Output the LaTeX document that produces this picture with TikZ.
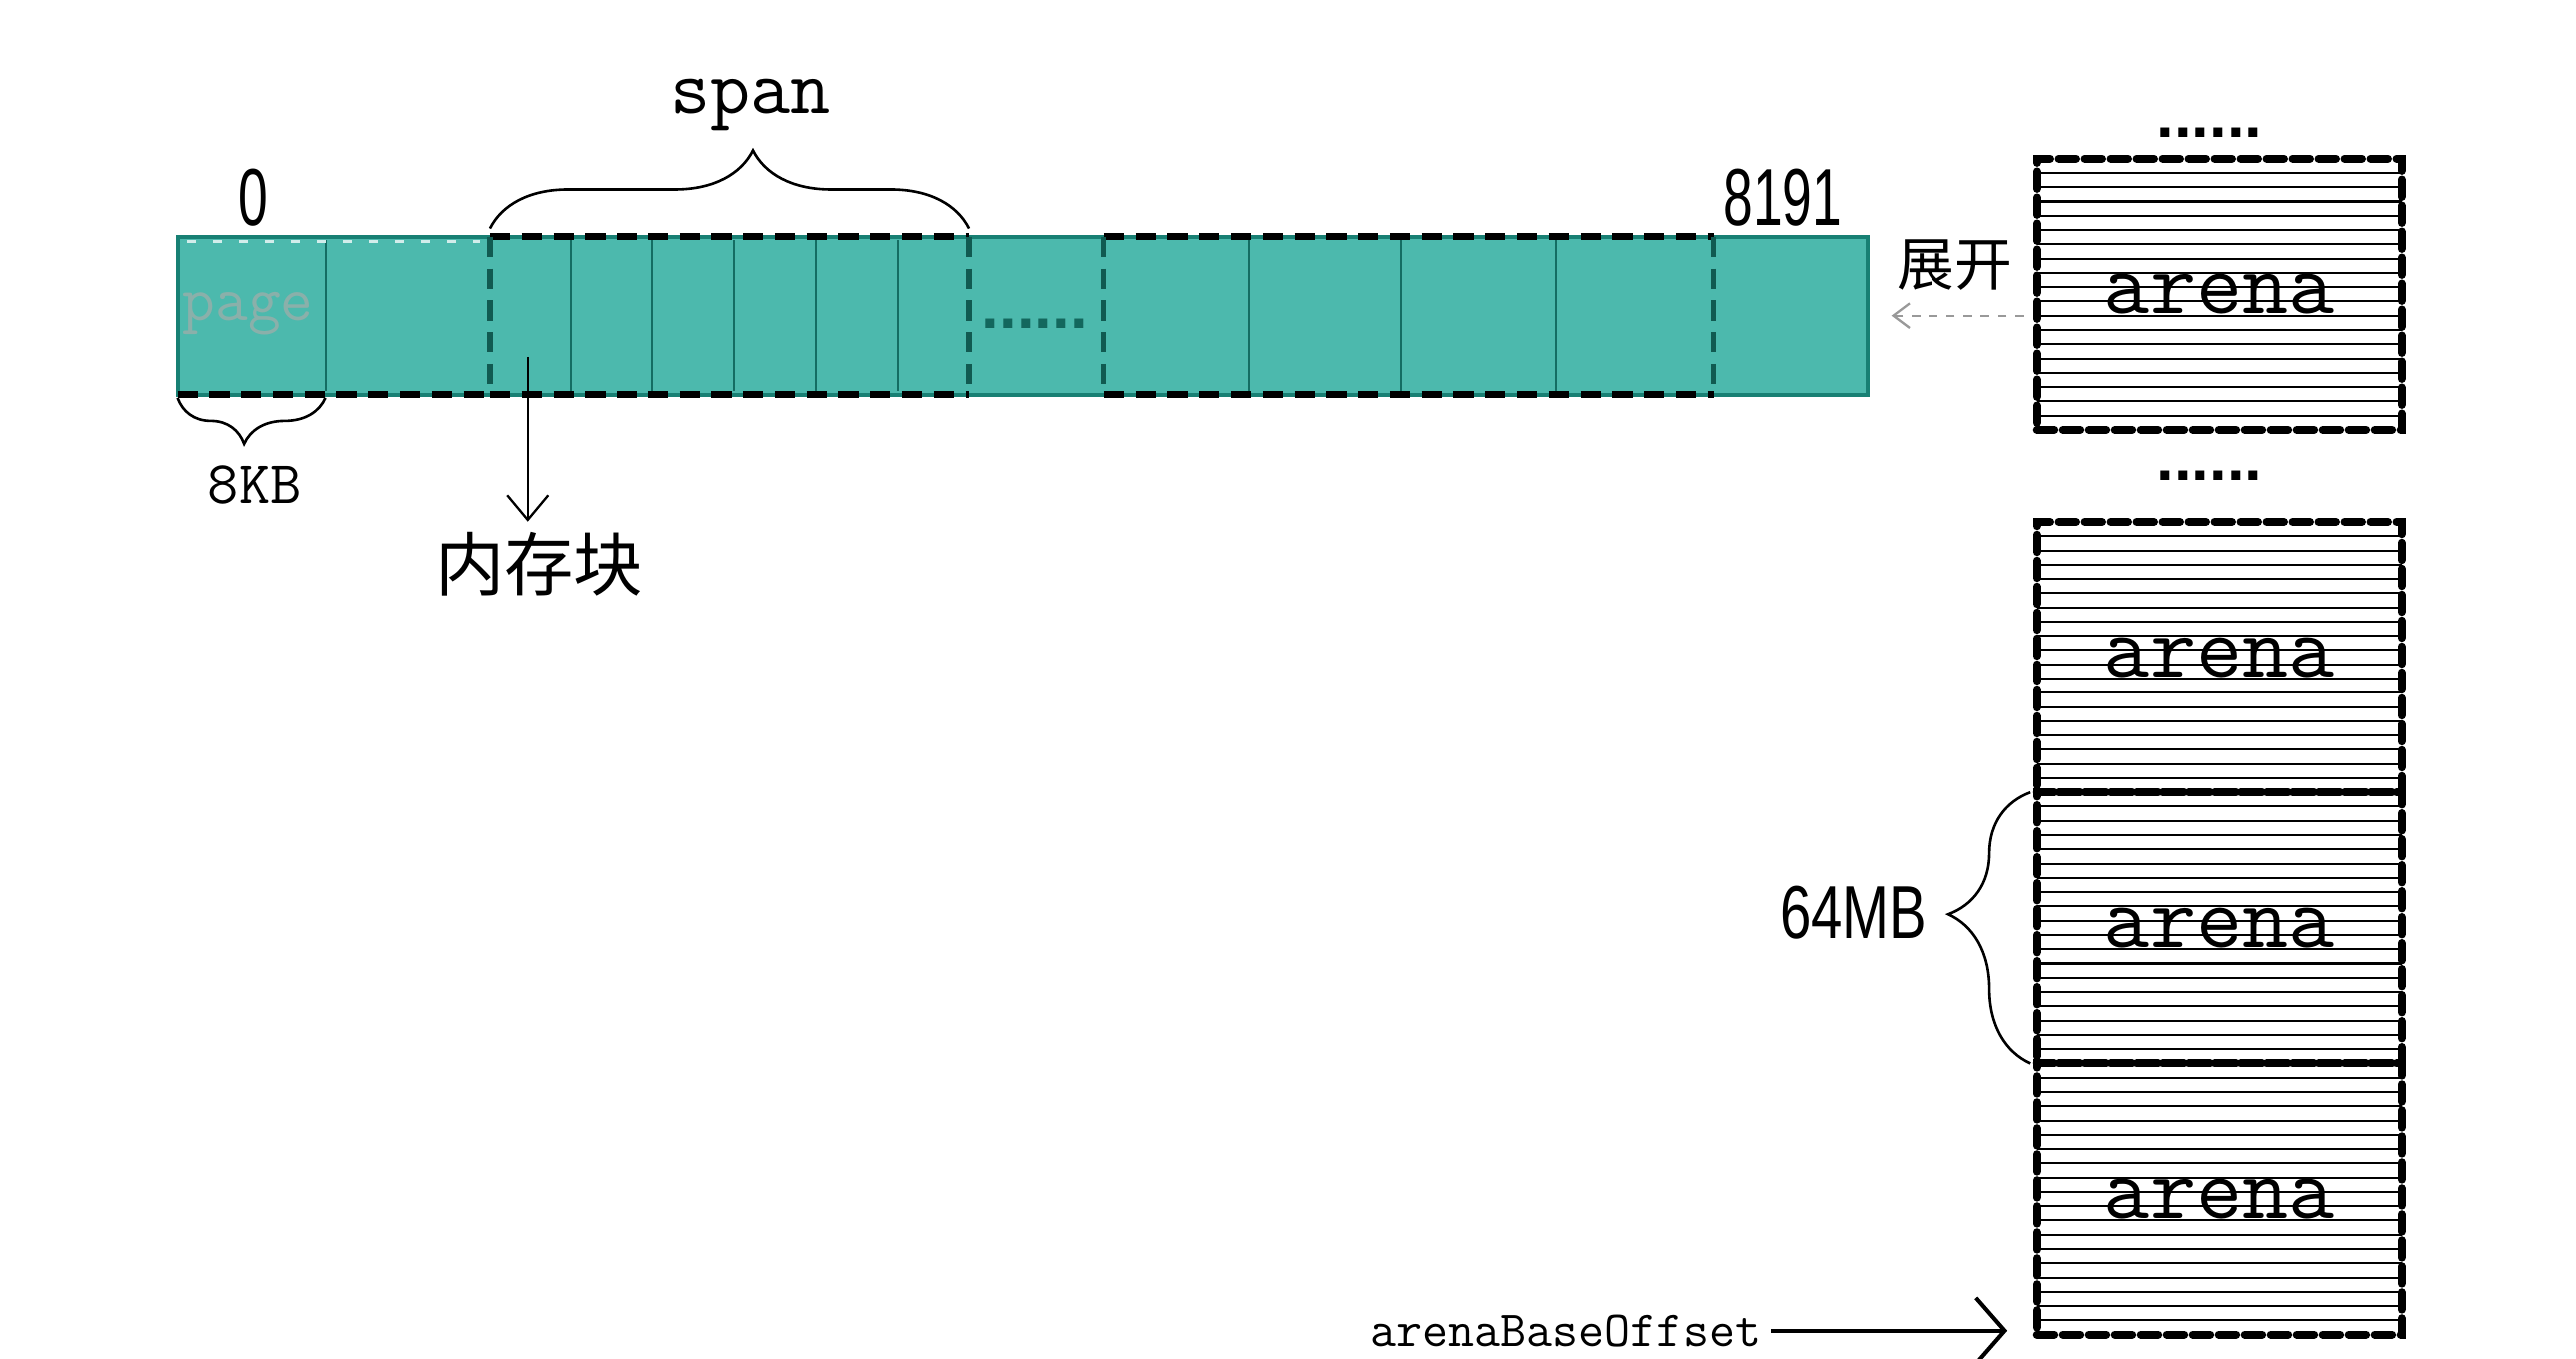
\documentclass[tikz,border=0pt]{standalone}
\usepackage{graphicx}
\usepackage{fontspec}
\setmainfont{Liberation Serif}
\newfontfamily\cjkfont{Noto Sans CJK SC}
\newfontfamily\numfont{Liberation Sans}
\usepackage{tikz}
\usetikzlibrary{positioning,calc,arrows.meta,decorations.pathreplacing}
\usepackage{xcolor}
\definecolor{pagefill}{RGB}{76,185,173}
\definecolor{pageedge}{RGB}{24,128,116}
\definecolor{pagetext}{RGB}{138,176,170}
\newcommand{\numtxt}[2]{\scalebox{#1}[1]{#2}}

\begin{document}
\begin{tikzpicture}[
    x=0.02cm, y=-0.02cm,
    bar/.style={rectangle, draw=pageedge, fill=pagefill, line width=1.4pt, minimum width=20.58cm, minimum height=1.92cm, inner sep=0pt},
    divider/.style={draw=pageedge!85!black, line width=0.7pt},
    grpedge/.style={draw=black, line width=2.4pt, dash pattern=on 7pt off 4pt},
    grpside/.style={draw=pageedge!70!black, line width=1.8pt, dash pattern=on 7pt off 4pt},
    arena/.style={rectangle, draw=black, line width=2.8pt, dash pattern=on 6pt off 3pt, line cap=round, minimum width=4.44cm, minimum height=3.3cm, inner sep=0pt, outer sep=0pt, font=\ttfamily\fontsize{31}{33}\selectfont},
    hatch/.style={line width=0.7pt},
    curly/.style={decorate, decoration={brace, amplitude=#1, aspect=0.55}, line width=0.9pt},
    dots/.style={font=\numfont\bfseries\fontsize{22}{22}\selectfont, inner sep=1pt},
    numlbl/.style={font=\numfont\fontsize{28}{30}\selectfont},
    monolbl/.style={font=\ttfamily\fontsize{21}{23}\selectfont},
    cjklbl/.style={font=\cjkfont\fontsize{24}{26}\selectfont},
    arrow/.style={-{Straight Barb[length=0.3cm, width=0.5cm]}, line width=0.8pt},
    expandarrow/.style={-{Straight Barb[length=0.2cm, width=0.3cm]}, dashed, line width=0.8pt, color=gray!80},
    bigarrow/.style={-{Straight Barb[length=0.35cm, width=0.8cm]}, line width=1.4pt}
]
\useasboundingbox (0,0) rectangle (1568,827);

% === PAGE BAR ===
\node[bar] (bar) at (622.5,192) {};
\foreach \xd in {198,347,397,447,497,547,760,853,947}
    \draw[divider] (\xd,146) -- (\xd,238);
\node[monolbl, font=\ttfamily\fontsize{22}{24}\selectfont, text=pagetext] (page) at (151,191) {page};
\node[dots, text=pageedge!80!black] (bardots) at (630,197) {......};

% span and page groups
\draw[grpedge] (108,240) -- (298,240);
\draw[white!75!pagefill, line width=1.2pt, dash pattern=on 3pt off 6pt] (114,147) -- (292,147);
\draw[grpedge] (298,144) -- (590,144) (298,240) -- (590,240);
\draw[grpside] (298,144) -- (298,240) (590,144) -- (590,240);
\draw[grpedge] (672,144) -- (1043,144) (672,240) -- (1043,240);
\draw[grpside] (672,144) -- (672,240) (1043,144) -- (1043,240);

% === BAR LABELS ===
\node[numlbl] (first) at (154,120) {\numtxt{0.66}{0}};
\node[numlbl] (last) at (1085,120) {\numtxt{0.66}{8191}};
\draw[curly=0.95cm] (298,139) -- (590,139);
\node[font=\ttfamily\fontsize{27}{29}\selectfont] (span) at (457,64) {span};
\draw[curly=0.56cm] (198,242) -- (108,242);
\node[monolbl] (size) at (155,295) {8KB};

\coordinate (blk) at (321,217);
\node[cjklbl] (mem) at (328,343) {内存块};
\draw[arrow] (blk) -- (blk |- mem.north);

% === ARENAS ===
\node[arena] (a1) at (1351,179) {arena};
\node[arena, below=1.12cm of a1] (a2) {arena};
\node[arena, below=0pt of a2] (a3) {arena};
\node[arena, below=0pt of a3] (a4) {arena};
\foreach \n in {a1,a2,a3,a4}
    \foreach \k in {1,...,18}
        \draw[hatch] ($(\n.north west)!\k/19!(\n.south west)$) -- ($(\n.north east)!\k/19!(\n.south east)$);
\node[dots, above=0.22cm of a1, xshift=-0.12cm] (topdots) {......};
\node[dots, xshift=-0.12cm] (middots) at ($(a1.south)!0.5!(a2.north)$) {......};

\node[cjklbl, font=\cjkfont\fontsize{20}{22}\selectfont] (expand) at (1190,161) {展开};
\draw[expandarrow, shorten <=0.16cm] (a1.west |- bar.east) -- ([xshift=0.26cm]bar.east);

\draw[curly=1cm] ([xshift=-0.08cm]a3.south west) -- ([xshift=-0.08cm]a3.north west);
\node[numlbl, font=\numfont\fontsize{26}{28}\selectfont] (mb) at (1128,556) {\numtxt{0.75}{64MB}};

\node[font=\ttfamily\fontsize{17.5}{19}\selectfont] (base) at (953,810) {arenaBaseOffset};
\draw[bigarrow, shorten >=0.36cm] (base) -- (base -| a4.west);

\end{tikzpicture}
\end{document}
